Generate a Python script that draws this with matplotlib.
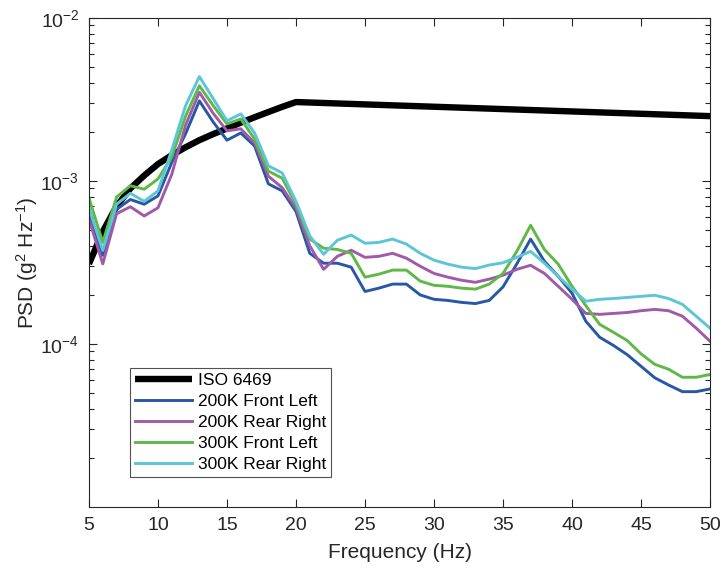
import numpy as np
import matplotlib
matplotlib.use('Agg')
import matplotlib.pyplot as plt
from matplotlib.ticker import LogLocator, FixedLocator, NullFormatter

plt.rcParams['font.family'] = ['Liberation Sans', 'DejaVu Sans']
plt.rcParams['mathtext.fontset'] = 'custom'
plt.rcParams['mathtext.rm'] = 'Liberation Sans'
plt.rcParams['mathtext.it'] = 'Liberation Sans:italic'

# frequencies (Hz)
freq = list(range(5, 51))

# ISO 6469 reference profile
iso_freq = [5, 6, 7, 8, 9, 10, 11, 12, 13, 14, 15, 16, 17, 18, 19, 20, 50]
iso_psd = [3.1e-4, 4.9e-4, 7.0e-4, 9.0e-4, 1.08e-3, 1.27e-3, 1.44e-3, 1.61e-3,
           1.78e-3, 1.94e-3, 2.1e-3, 2.28e-3, 2.46e-3, 2.65e-3, 2.85e-3, 3.05e-3, 2.5e-3]

fl_200k = [6.35e-4, 3.5e-4, 6.7e-4, 7.7e-4, 7.2e-4, 8.1e-4, 1.3e-3, 1.95e-3, 3.1e-3, 2.3e-3,
           1.78e-3, 1.97e-3, 1.64e-3, 9.6e-4, 8.7e-4, 6.5e-4, 3.6e-4, 3.13e-4, 3.13e-4, 2.96e-4,
           2.1e-4, 2.2e-4, 2.33e-4, 2.33e-4, 2.0e-4, 1.88e-4, 1.85e-4, 1.8e-4, 1.77e-4, 1.85e-4,
           2.24e-4, 3.1e-4, 4.4e-4, 3.22e-4, 2.6e-4, 2.05e-4, 1.38e-4, 1.1e-4, 9.8e-5, 8.6e-5,
           7.3e-5, 6.2e-5, 5.6e-5, 5.1e-5, 5.1e-5, 5.3e-5]
rr_200k = [5.84e-4, 3.1e-4, 6.3e-4, 6.95e-4, 6.1e-4, 6.85e-4, 1.1e-3, 2.2e-3, 3.5e-3, 2.6e-3,
           2.03e-3, 2.09e-3, 1.71e-3, 1.07e-3, 9.1e-4, 6.8e-4, 4.0e-4, 2.87e-4, 3.45e-4, 3.76e-4,
           3.4e-4, 3.45e-4, 3.6e-4, 3.36e-4, 3.0e-4, 2.71e-4, 2.57e-4, 2.46e-4, 2.39e-4, 2.5e-4,
           2.64e-4, 2.87e-4, 3.04e-4, 2.71e-4, 2.26e-4, 1.88e-4, 1.54e-4, 1.52e-4, 1.54e-4, 1.56e-4,
           1.6e-4, 1.63e-4, 1.6e-4, 1.48e-4, 1.25e-4, 1.04e-4]
fl_300k = [7.86e-4, 4.2e-4, 7.97e-4, 9.35e-4, 8.9e-4, 1.03e-3, 1.4e-3, 2.5e-3, 3.84e-3, 2.9e-3,
           2.24e-3, 2.4e-3, 1.81e-3, 1.15e-3, 1.04e-3, 7.2e-4, 4.4e-4, 3.87e-4, 3.8e-4, 3.6e-4,
           2.57e-4, 2.68e-4, 2.84e-4, 2.84e-4, 2.43e-4, 2.29e-4, 2.26e-4, 2.2e-4, 2.17e-4, 2.33e-4,
           2.71e-4, 3.7e-4, 5.35e-4, 3.8e-4, 3.09e-4, 2.26e-4, 1.72e-4, 1.32e-4, 1.18e-4, 1.05e-4,
           8.7e-5, 7.5e-5, 7.0e-5, 6.25e-5, 6.25e-5, 6.5e-5]
rr_300k = [6.82e-4, 3.75e-4, 7.2e-4, 8.4e-4, 7.5e-4, 8.7e-4, 1.55e-3, 2.9e-3, 4.37e-3, 3.2e-3,
           2.34e-3, 2.58e-3, 1.97e-3, 1.24e-3, 1.12e-3, 7.5e-4, 4.6e-4, 3.55e-4, 4.33e-4, 4.66e-4,
           4.15e-4, 4.2e-4, 4.4e-4, 4.1e-4, 3.6e-4, 3.27e-4, 3.09e-4, 2.96e-4, 2.9e-4, 3.05e-4,
           3.15e-4, 3.4e-4, 3.7e-4, 3.13e-4, 2.6e-4, 2.17e-4, 1.83e-4, 1.88e-4, 1.9e-4, 1.93e-4,
           1.96e-4, 1.99e-4, 1.9e-4, 1.75e-4, 1.48e-4, 1.25e-4]

series = [
    ('200K Front Left', fl_200k, '#2757a5'),
    ('200K Rear Right', rr_200k, '#a05aa9'),
    ('300K Front Left', fl_300k, '#5fb847'),
    ('300K Rear Right', rr_300k, '#5cc6d6'),
]

fig = plt.figure(figsize=(7.24, 5.71), dpi=100)
ax = fig.add_axes([0.1229, 0.1121, 0.8578, 0.8564])

ax.plot(iso_freq, iso_psd, color='black', linewidth=4.6, label='ISO 6469',
        solid_capstyle='butt')
for name, vals, col in series:
    ax.plot(freq, vals, color=col, linewidth=2.1, label=name)

ax.set_yscale('log')
ax.set_xlim(5, 50)
ax.set_ylim(1e-5, 1e-2)
ax.set_xticks(range(5, 51, 5))
ax.yaxis.set_major_locator(FixedLocator([1e-4, 1e-3, 1e-2]))
ax.yaxis.set_minor_locator(LogLocator(base=10, subs=np.arange(2, 10)))
ax.yaxis.set_minor_formatter(NullFormatter())
ax.set_yticklabels([r'$10^{-4}$', r'$10^{-3}$', r'$10^{-2}$'])

ax.tick_params(which='both', direction='in', top=True, right=True,
               labelsize=14, colors='#262626', labelcolor='#262626')
ax.tick_params(which='major', length=6, width=0.8, pad=7)
ax.tick_params(which='minor', length=3.5, width=0.8)
for sp in ax.spines.values():
    sp.set_color('#262626')
    sp.set_linewidth(0.8)

ax.set_xlabel('Frequency (Hz)', fontsize=15, color='#262626', labelpad=7)
ax.set_ylabel(r'PSD (g$^2$ Hz$^{-1}$)', fontsize=15, color='#262626', labelpad=0)

leg = ax.legend(loc='lower left', bbox_to_anchor=(0.066, 0.061), fontsize=12.5,
                frameon=True, fancybox=False, edgecolor='#262626',
                handlelength=3.3, handletextpad=0.3, borderpad=0.3,
                labelspacing=0.33, borderaxespad=0)
leg.get_frame().set_linewidth(0.8)

fig.savefig('out.png', dpi=100)
